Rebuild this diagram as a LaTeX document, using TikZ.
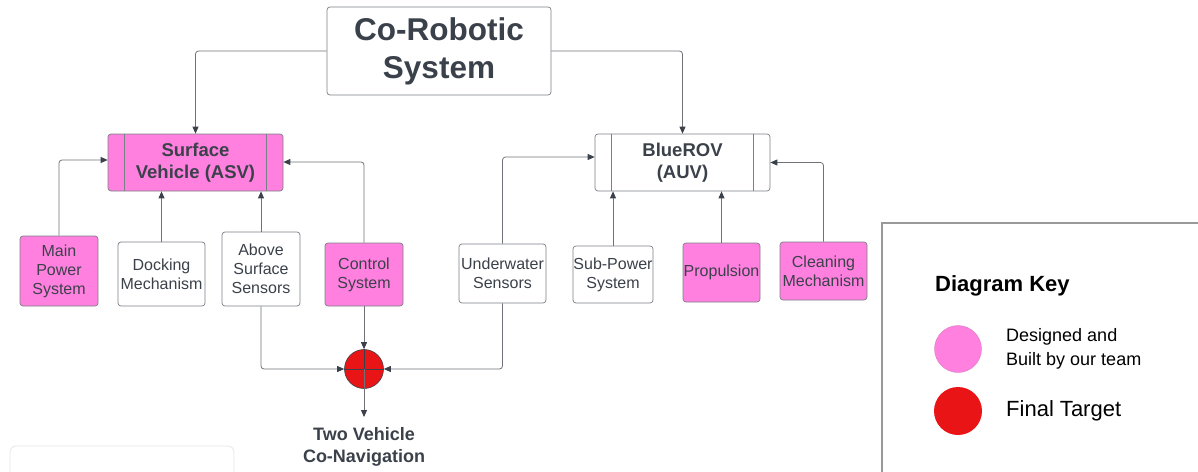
\documentclass[tikz,border=0pt]{standalone}
\usepackage{fontspec}
\setmainfont{Liberation Sans}
\usetikzlibrary{arrows.meta,positioning,calc}
\definecolor{pinkfill}{HTML}{FF80DF}
\definecolor{redfill}{HTML}{E81416}
\definecolor{txt}{HTML}{3B414A}
\definecolor{bord}{HTML}{7C7F86}
\definecolor{conn}{HTML}{6E7278}
\definecolor{keyb}{HTML}{999999}
\tikzset{
  box/.style={draw=bord, line width=0.7pt, rounded corners=3pt, fill=white, text=txt,
    align=center, inner sep=0pt, font=\fontsize{16}{19}\selectfont},
  pinkbox/.style={box, fill=pinkfill},
  bigbox/.style={box, font=\bfseries\fontsize{18.5}{22}\selectfont},
  conn/.style={draw=conn, line width=0.8pt, rounded corners=3pt,
    -{Triangle[length=7pt,width=6pt,fill=txt,color=txt]}},
  keytext/.style={anchor=west, inner sep=0pt, align=left}
}
\begin{document}
\begin{tikzpicture}[x=1pt,y=-1pt]
\useasboundingbox (0,0) rectangle (1198,471);
\clip (0,0) rectangle (1198,471);
% top
\node[box, font=\bfseries\fontsize{31.5}{38}\selectfont, minimum width=224pt, minimum height=88pt] (top) at (439,51) {Co-Robotic\\System};
% surface vehicle
\node[bigbox, fill=pinkfill, minimum width=175pt, minimum height=57pt] (sv) at (195.5,162.5) {Surface\\Vehicle (ASV)};
\draw[draw=bord, line width=0.7pt] ([xshift=17pt]sv.north west) -- ([xshift=17pt]sv.south west)
  ([xshift=-17pt]sv.north east) -- ([xshift=-17pt]sv.south east);
% bluerov
\node[bigbox, minimum width=175pt, minimum height=57pt] (rov) at (682.5,162.5) {BlueROV\\(AUV)};
\draw[draw=bord, line width=0.7pt] ([xshift=17pt]rov.north west) -- ([xshift=17pt]rov.south west)
  ([xshift=-17pt]rov.north east) -- ([xshift=-17pt]rov.south east);
% children
\node[pinkbox, minimum width=78pt, minimum height=70pt] (mps) at (59,271) {Main\\Power\\System};
\node[box, minimum width=87pt, minimum height=64pt] (dock) at (161.5,274) {Docking\\Mechanism};
\node[box, minimum width=78pt, minimum height=74pt] (ass) at (261,269) {Above\\Surface\\Sensors};
\node[pinkbox, minimum width=78pt, minimum height=63pt] (ctrl) at (364,274.5) {Control\\System};
\node[box, minimum width=87pt, minimum height=59pt] (uw) at (502.5,273.5) {Underwater\\Sensors};
\node[box, minimum width=80pt, minimum height=57pt] (sub) at (613,274.5) {Sub-Power\\System};
\node[pinkbox, minimum width=77pt, minimum height=59pt] (prop) at (721.5,272.5) {Propulsion};
\node[pinkbox, minimum width=87pt, minimum height=58pt] (clean) at (823.5,271) {Cleaning\\Mechanism};
% target circle
\node[circle, draw=txt, line width=0.6pt, fill=redfill, minimum size=39pt, inner sep=0pt] (circ) at (364,369) {};
\draw[draw=txt, line width=0.6pt] (circ.north) -- (circ.south) (circ.west) -- (circ.east);
\coordinate (outend) at (364,417);
\node[text=txt, align=center, font=\bfseries\fontsize{18}{22}\selectfont] (nav) at (364,446.5) {Two Vehicle\\Co-Navigation};
% connectors
\draw[conn] (top.west) -| (sv.north);
\draw[conn] (top.east) -| (rov.north);
\draw[conn] (mps.north) |- ([yshift=2.5pt]sv.west);
\draw[conn] (dock.north) -- (dock.north |- sv.south);
\draw[conn] (ass.north) -- (ass.north |- sv.south);
\draw[conn] (ctrl.north) |- ([yshift=0.5pt]sv.east);
\draw[conn] (uw.north) |- ([yshift=5.5pt]rov.west);
\draw[conn] (sub.north) -- (sub.north |- rov.south);
\draw[conn] (prop.north) -- (prop.north |- rov.south);
\draw[conn] (clean.north) |- (rov.east);
\draw[conn] (ass.south) |- (circ.west);
\draw[conn] (ctrl.south) -- (circ.north);
\draw[conn] (uw.south) |- (circ.east);
\draw[conn] (circ.center) -- (outend);
% key
\draw[draw=keyb, line width=1.5pt] (1210,223) -- (882,223) -- (882,480);
\node[keytext, font=\bfseries\fontsize{22}{26}\selectfont] (keyt) at (935,286) {Diagram Key};
\node[circle, fill=pinkfill, draw=pinkfill!70!gray, line width=0.4pt, minimum size=47pt, inner sep=0pt] (kp) at (958,349) {};
\node[circle, fill=redfill, minimum size=48pt, inner sep=0pt] (kr) at (958,411) {};
\node[keytext, font=\fontsize{18}{24}\selectfont] (kpt) at (1006,348.5) {Designed and\\Built by our team};
\node[keytext, font=\fontsize{22}{26}\selectfont] (krt) at (1006,411) {Final Target};
% faint partial box bottom-left
\draw[draw=gray!20, line width=0.8pt, rounded corners=6pt] (10,490) -- (10,446) -- (234,446) -- (234,490);
\end{tikzpicture}
\end{document}
